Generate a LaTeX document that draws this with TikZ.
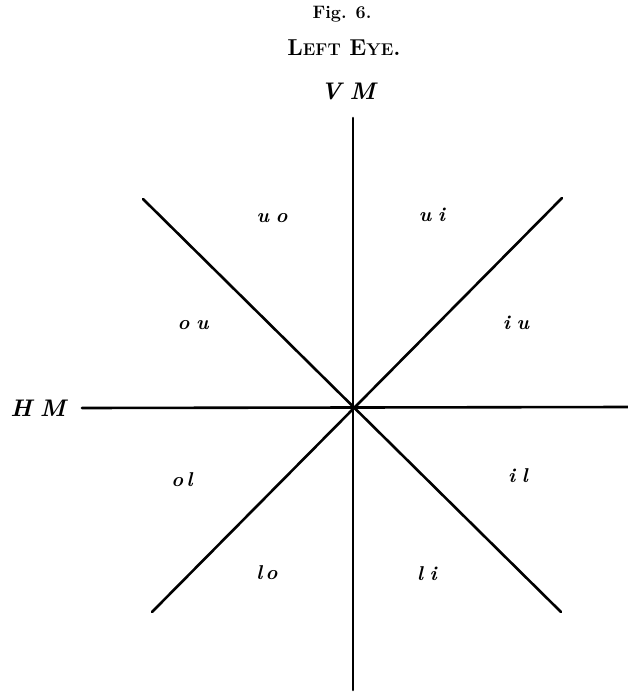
\documentclass[tikz,border=0pt]{standalone}
\usepackage{fontspec}
\setmainfont{Latin Modern Roman}
\begin{document}
\begin{tikzpicture}[x=1pt,y=-1pt,
  axis/.style={line width=2.6pt,line cap=round},
  sector/.style={font=\fontsize{20}{20}\selectfont\bfseries\itshape,inner sep=0pt},
  title/.style={inner sep=0pt}]
\useasboundingbox (0,0) rectangle (628,693);
\coordinate (c) at (353,407);
\coordinate (vt) at (353,118);
\coordinate (vb) at (353,690);
\coordinate (hl) at (82,408);
\coordinate (hr) at (628,407);
\coordinate (tl) at (143,199);
\coordinate (br) at (561,612);
\coordinate (tr) at (562,198);
\coordinate (bl) at (152,612);
\draw[axis] (vt) -- (vb);
\draw[axis] (hl) -- (hr);
\draw[axis] (tl) -- (br);
\draw[axis] (tr) -- (bl);
\node[title,font=\fontsize{18}{18}\selectfont\bfseries] (fig) at (342,14) {Fig. 6.};
\node[title,font=\fontsize{23}{23}\selectfont\bfseries] (eye) at (344,48) {L{\fontsize{17}{17}\selectfont EFT} E{\fontsize{17}{17}\selectfont YE}.};
\node[title,font=\fontsize{24}{24}\selectfont\bfseries\itshape] (vm) at (348,91) {V\,\,M};
\node[title,font=\fontsize{24}{24}\selectfont\bfseries\itshape] (hm) at (38,408) {H\,\,M};
\node[sector] (uo) at (272,218) {u\,\,o};
\node[sector] (ui) at (432,215) {u\,\,i};
\node[sector] (ou) at (193,325) {o\,\,u};
\node[sector] (iu) at (516,323) {i\,\,u};
\node[sector] (ol) at (182,480) {o\,l};
\node[sector] (il) at (518,476) {i\,\,l};
\node[sector] (lo) at (267,573) {l\,o};
\node[sector] (li) at (427,574) {l\,\,i};
\end{tikzpicture}
\end{document}
